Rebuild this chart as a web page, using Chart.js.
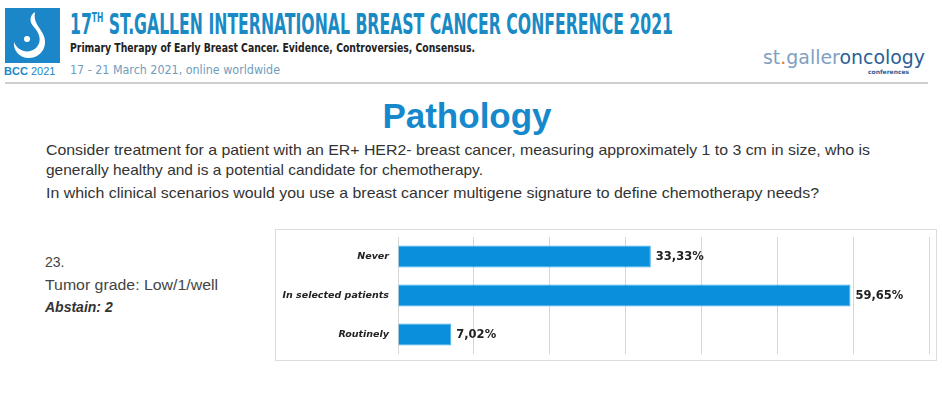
<!DOCTYPE html>
<html>
<head>
<meta charset="utf-8">
<script src="https://cdn.jsdelivr.net/npm/chart.js@4/dist/chart.umd.min.js"></script>
<style>
  body { margin: 0; width: 942px; height: 393px; background: #fff; position: relative; overflow: hidden; font-family: "Liberation Sans", Arial, sans-serif; }
  .abs { position: absolute; white-space: nowrap; line-height: 1.15; }
  .fit { display: inline-block; transform-origin: 0 0; }
  #logo { left: 5px; top: 8px; width: 55px; height: 55px; background: #1b86c8; }
  #bcc { left: 4px; top: 65px; font-size: 11px; color: #1b86c8; }
  #h1 { left: 70px; top: 10px; font-family: "DejaVu Sans Condensed", "DejaVu Sans", sans-serif; font-weight: bold; font-size: 29px; color: #1a8ac4; line-height: 1; }
  #h1 sup { font-size: 14px; vertical-align: 12px; line-height: 0; }
  #h2 { left: 70px; top: 41px; font-family: "DejaVu Sans Condensed", "DejaVu Sans", sans-serif; font-weight: bold; font-size: 13px; color: #222; line-height: 1; }
  #h3 { left: 70px; top: 64px; font-family: "DejaVu Sans Condensed", "DejaVu Sans", sans-serif; font-size: 12px; color: #6f9dbd; line-height: 1; }
  #rule { left: 5px; top: 82px; width: 923px; height: 2px; background: #cfcfcf; }
  #sg { left: 763px; top: 48px; font-family: "DejaVu Sans", sans-serif; font-size: 19px; line-height: 1; }
  #sgc { left: 868px; top: 69px; font-family: "DejaVu Sans", sans-serif; font-size: 6px; color: #2a5f98; font-weight: bold; line-height: 1; }
  #title { left: 0; width: 934px; top: 96px; text-align: center; font-weight: bold; font-size: 35px; color: #1689cc; }
  .para { left: 46px; font-size: 14.5px; color: #333; }
  .side { left: 45px; font-size: 14px; color: #444; }
  #box { left: 275px; top: 229px; width: 662px; height: 132px; border: 1px solid #dcdcdc; box-sizing: border-box; }
  #wrap { left: 276px; top: 230px; width: 660px; height: 130px; }
  #chart { display: block; }
</style>
</head>
<body>
<div class="abs" id="logo">
  <svg width="55" height="55" viewBox="0 0 55 55">
    <path d="M30 4 C28 14 34 18 38 26 C44 38 36 50 24 50 C14 50 8 42 9 34 C13 44 24 46 31 40 C38 33 34 24 28 18 C24 13 25 7 30 4 Z" fill="#fff"/>
    <circle cx="22" cy="31" r="3" fill="#fff"/>
  </svg>
</div>
<div class="abs" id="bcc"><b>BCC</b> 2021</div>
<div class="abs" id="h1"><span class="fit" data-w="603">17<sup>TH</sup> ST.GALLEN INTERNATIONAL BREAST CANCER CONFERENCE 2021</span></div>
<div class="abs" id="h2"><span class="fit" data-w="405">Primary Therapy of Early Breast Cancer. Evidence, Controversies, Consensus.</span></div>
<div class="abs" id="h3"><span class="fit" data-w="210">17 - 21 March 2021, online worldwide</span></div>
<div class="abs" id="sg"><span class="fit" data-w="162"><span style="color:#7fa0c2">st<span style="color:#e07a3a">.</span>galler</span><span style="color:#2a5f98">oncology</span></span></div>
<div class="abs" id="sgc">conferences</div>
<div class="abs" id="rule"></div>

<div class="abs" id="title">Pathology</div>
<div class="abs para" style="top:142px"><span class="fit" data-w="824">Consider treatment for a patient with an ER+ HER2- breast cancer, measuring approximately 1 to 3 cm in size, who is</span></div>
<div class="abs para" style="top:162px"><span class="fit" data-w="437">generally healthy and is a potential candidate for chemotherapy.</span></div>
<div class="abs para" style="top:185px"><span class="fit" data-w="773">In which clinical scenarios would you use a breast cancer multigene signature to define chemotherapy needs?</span></div>

<div class="abs side" style="top:254px">23.</div>
<div class="abs side" style="top:277px"><span class="fit" data-w="173">Tumor grade: Low/1/well</span></div>
<div class="abs side" style="top:299px; font-weight:bold; font-style:italic; color:#333">Abstain: 2</div>

<div class="abs" id="box"></div>
<div class="abs" id="wrap"><canvas id="chart" width="660" height="130"></canvas></div>

<script>
// squeeze header text to the widths seen in the slide
document.querySelectorAll(".fit").forEach(el => {
  const w = +el.dataset.w;
  el.style.transform = "scaleX(" + (w / el.getBoundingClientRect().width) + ")";
});

const categories = ["Never", "In selected patients", "Routinely"];
const percentages = [33.33, 59.65, 7.02];
const axisMax = 70;
const axisStep = 10;

const fmt = v => v.toFixed(2).replace(".", ",") + "%";

/* value labels at the bar ends */
const barLabels = {
  id: "barLabels",
  afterDatasetsDraw(chart) {
    const { ctx } = chart;
    ctx.save();
    ctx.font = "bold 11.5px 'DejaVu Sans', sans-serif";
    ctx.fillStyle = "#222";
    ctx.textBaseline = "middle";
    chart.getDatasetMeta(0).data.forEach((bar, i) => {
      ctx.fillText(fmt(percentages[i]), bar.x + 5, bar.y + 1);
    });
    ctx.restore();
  }
};

const ctx = document.getElementById("chart").getContext("2d");
new Chart(ctx, {
  type: "bar",
  data: {
    labels: categories,
    datasets: [{
      data: percentages,
      backgroundColor: "#0a8fdc",
      borderColor: "#45aee8",
      borderWidth: 1,
      borderSkipped: "left",
      categoryPercentage: 1,
      barPercentage: 0.57
    }]
  },
  options: {
    indexAxis: "y",
    responsive: false,
    maintainAspectRatio: false,
    animation: false,
    layout: { padding: { top: 7, bottom: 6, right: 7, left: 0 } },
    plugins: { legend: { display: false }, tooltip: { enabled: false } },
    scales: {
      x: {
        min: 0,
        max: axisMax,
        ticks: { display: false, stepSize: axisStep },
        grid: { color: "#d6d6d6", drawTicks: false, lineWidth: 1 },
        border: { display: false },
        afterFit: s => { s.height = 0; s.paddingLeft = 0; s.paddingRight = 0; }
      },
      y: {
        ticks: {
          color: "#222",
          padding: 9,
          font: { family: "'DejaVu Sans', sans-serif", size: 9.5, weight: "bold", style: "italic" }
        },
        grid: { display: false, drawTicks: false },
        border: { display: false },
        afterFit: s => { s.width = 122; s.paddingTop = 0; s.paddingBottom = 0; }
      }
    }
  },
  plugins: [barLabels]
});
</script>
</body>
</html>
